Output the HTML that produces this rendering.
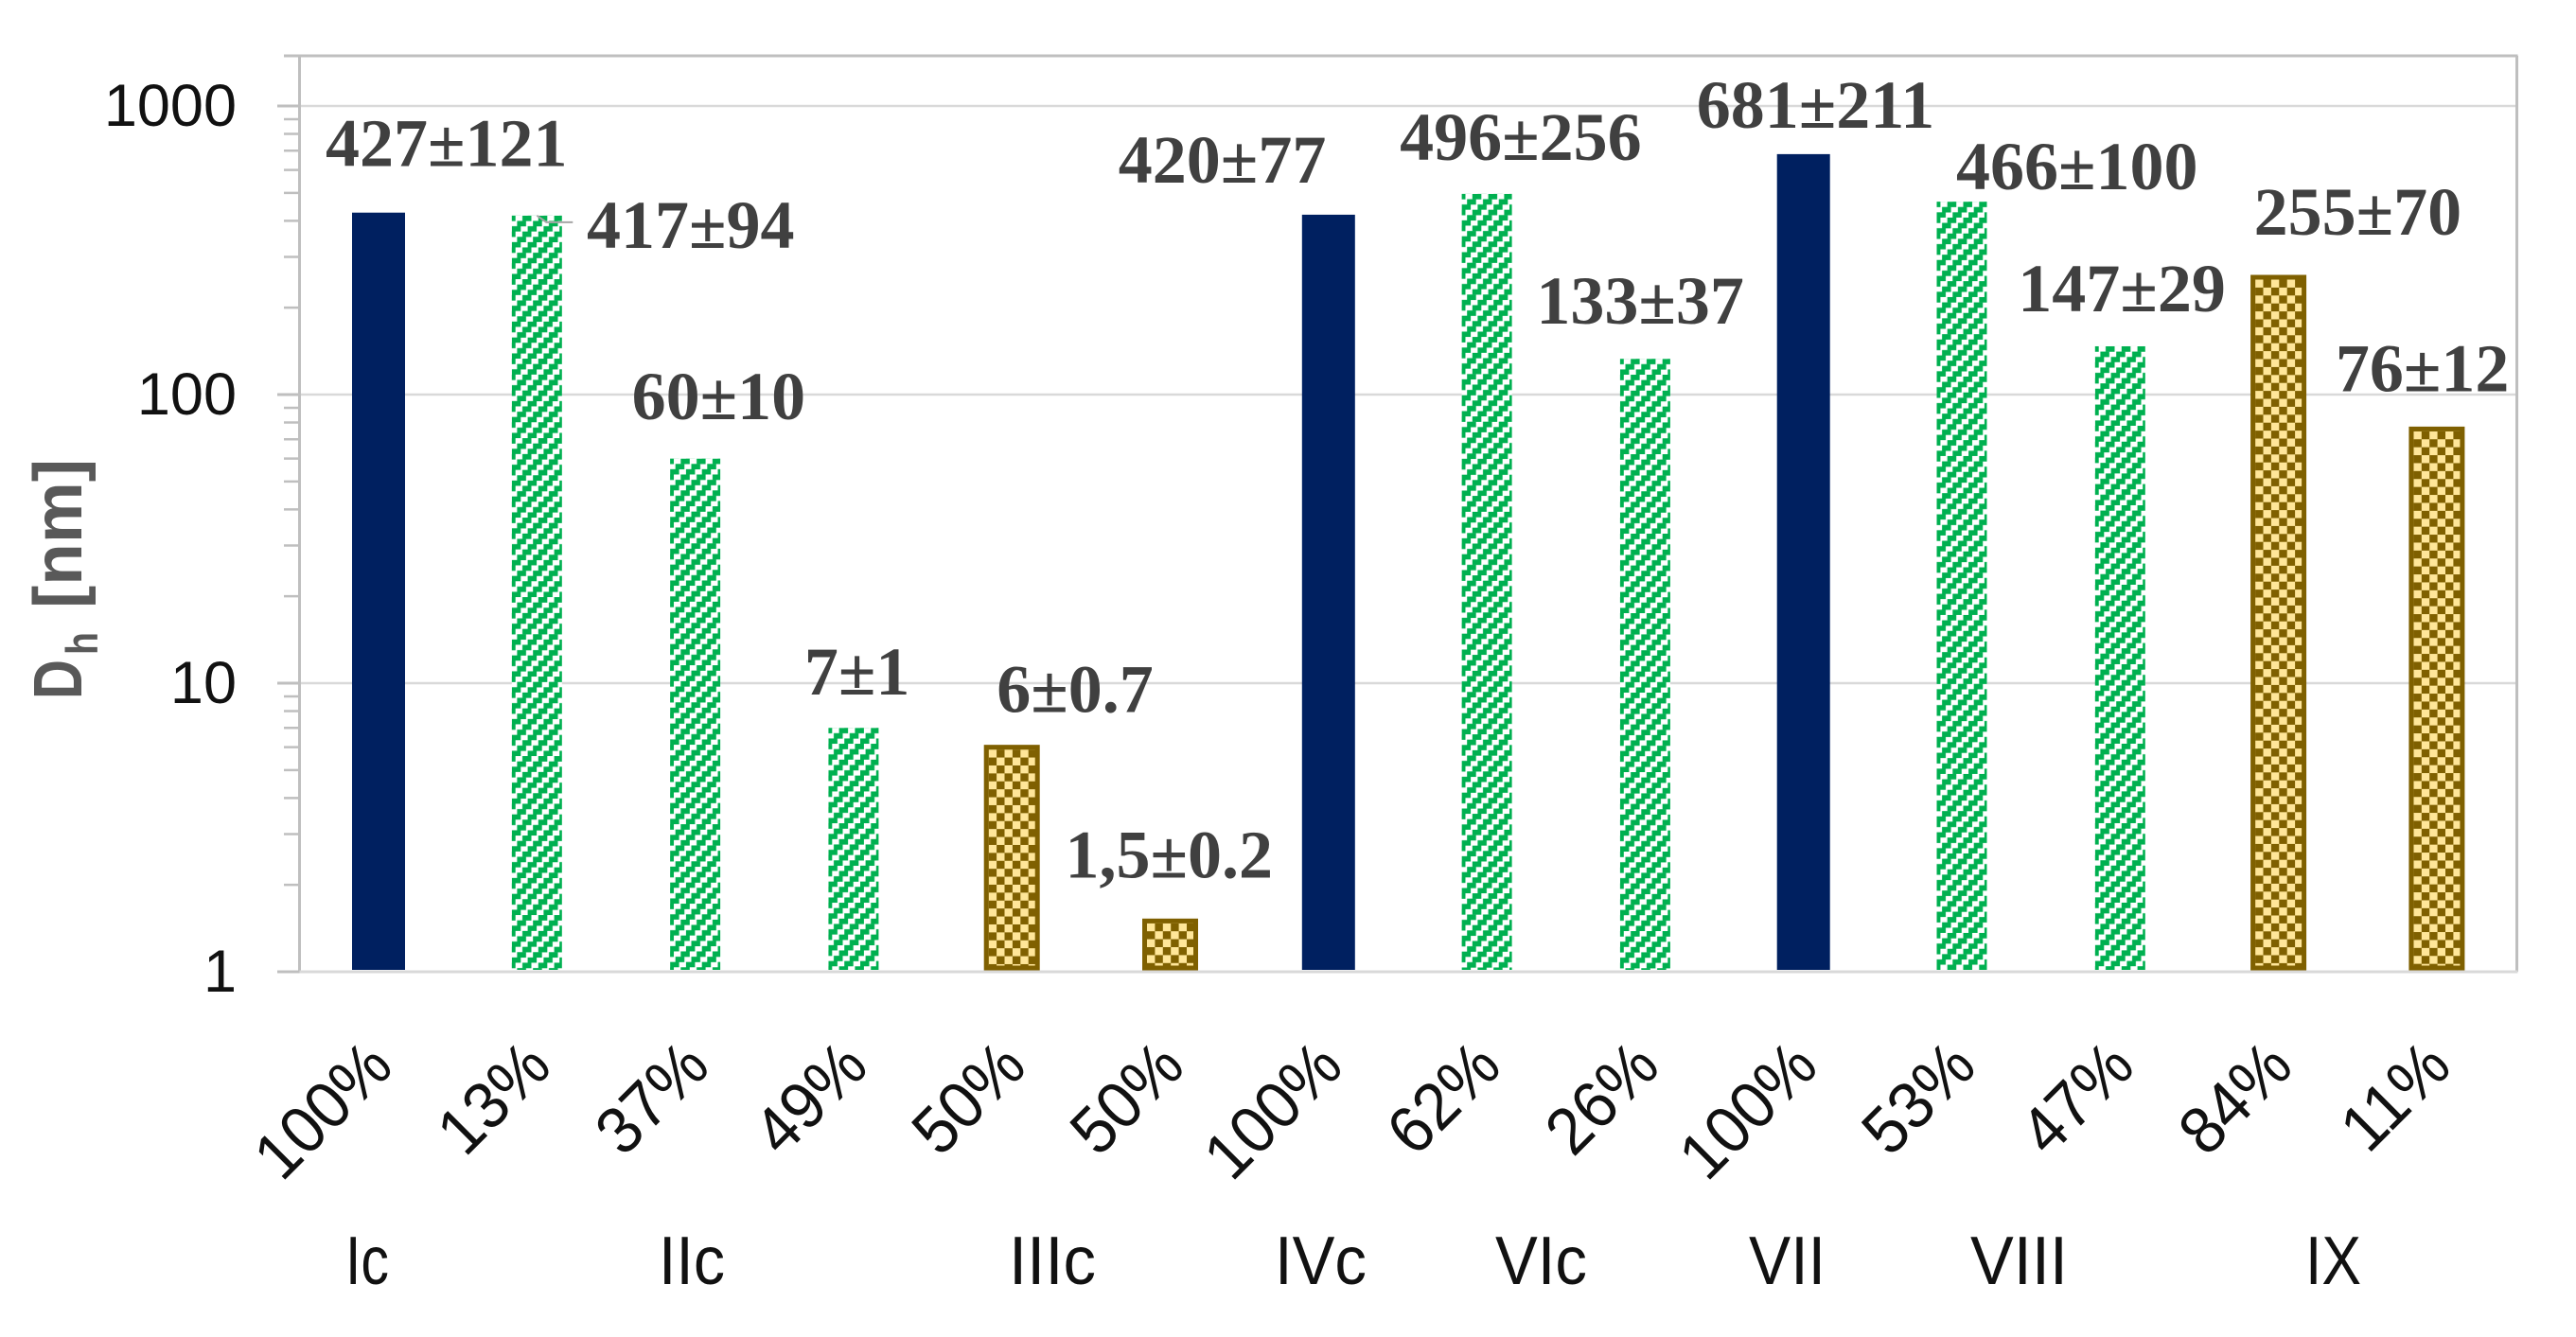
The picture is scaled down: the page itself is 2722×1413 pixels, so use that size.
<!DOCTYPE html>
<html lang="en">
<head>
<meta charset="utf-8">
<title>Hydrodynamic diameter chart</title>
<style>
  html, body { margin: 0; padding: 0; background: #ffffff; }
  svg { display: block; }
  .tick { font-family: "Liberation Sans", sans-serif; font-size: 63px; fill: #111111; }
  .pct { font-family: "Liberation Sans", sans-serif; font-size: 70px; fill: #111111; }
  .group { font-family: "Liberation Sans", sans-serif; font-size: 72px; fill: #111111; text-anchor: start; }
  .value { font-family: "Liberation Serif", serif; font-size: 72px; font-weight: bold; fill: #404040; }
  .title { font-family: "Liberation Sans", sans-serif; font-weight: bold; fill: #595959; }
</style>
</head>
<body>
<svg id="chart" xmlns="http://www.w3.org/2000/svg" width="2722" height="1413" viewBox="0 0 2722 1413">
  <defs>
    <pattern id="stripe" patternUnits="userSpaceOnUse" width="16.8" height="16.8" x="0" y="0">
      <rect width="16.8" height="16.8" fill="#ffffff"/>
      <g fill="#00B050">
        <rect x="11.2" y="0" width="5.6" height="5.8"/>
        <rect x="0" y="0" width="3.9" height="5.8"/>
        <rect x="5.6" y="5.6" width="9.5" height="5.8"/>
        <rect x="0" y="11.2" width="9.5" height="5.6"/>
      </g>
    </pattern>
    <pattern id="checker" patternUnits="userSpaceOnUse" width="16.8" height="16.8" x="2.5" y="2.5">
      <rect width="16.8" height="16.8" fill="#FFE699"/>
      <rect x="8.4" y="0" width="8.4" height="8.4" fill="#7F6000"/>
      <rect x="0" y="8.4" width="8.4" height="8.4" fill="#7F6000"/>
    </pattern>
  </defs>
  <rect x="0" y="0" width="2722" height="1413" fill="#ffffff"/>
  <g id="grid"></g>
  <g id="bars"></g>
  <g id="axes"></g>
  <g id="labels"></g>
  <g id="yticks"></g>
  <g id="xticks"></g>

  <g>
    <text class="title" font-size="72" transform="translate(86,739) rotate(-90)" textLength="42" lengthAdjust="spacingAndGlyphs">D</text>
    <text class="title" font-size="47" transform="translate(103,692) rotate(-90)" textLength="24" lengthAdjust="spacingAndGlyphs">h</text>
    <text class="title" font-size="72" transform="translate(86,643) rotate(-90)" textLength="158" lengthAdjust="spacingAndGlyphs">[nm]</text>
  </g>

  <g>
    <text class="group" x="365" y="1357" textLength="46" lengthAdjust="spacingAndGlyphs">Ic</text>
    <text class="group" x="696" y="1357" textLength="70" lengthAdjust="spacingAndGlyphs">IIc</text>
    <text class="group" x="1066" y="1357" textLength="92" lengthAdjust="spacingAndGlyphs">IIIc</text>
    <text class="group" x="1347" y="1357" textLength="97" lengthAdjust="spacingAndGlyphs">IVc</text>
    <text class="group" x="1580" y="1357" textLength="97" lengthAdjust="spacingAndGlyphs">VIc</text>
    <text class="group" x="1848" y="1357" textLength="81" lengthAdjust="spacingAndGlyphs">VII</text>
    <text class="group" x="2082" y="1357" textLength="103" lengthAdjust="spacingAndGlyphs">VIII</text>
    <text class="group" x="2436" y="1357" textLength="59" lengthAdjust="spacingAndGlyphs">IX</text>
  </g>
</svg>

<script>
// ---- chart data ----
const percentLabels = ["100%", "13%", "37%", "49%", "50%", "50%", "100%", "62%", "26%", "100%", "53%", "47%", "84%", "11%"];
const diameters = [427, 417, 60, 7, 6, 1.5, 420, 496, 133, 681, 466, 147, 255, 76];
const valueLabels = ["427±121", "417±94", "60±10", "7±1", "6±0.7", "1,5±0.2", "420±77", "496±256", "133±37", "681±211", "466±100", "147±29", "255±70", "76±12"];
const barKinds = ["solid", "stripe", "stripe", "stripe", "checker", "checker", "solid", "stripe", "stripe", "solid", "stripe", "stripe", "checker", "checker"];
const yTicks = [1, 10, 100, 1000];
const minorMultiples = [2, 3, 4, 5, 6, 7, 8, 9];

// ---- layout, separate from the data ----
const labelNudges = [[-56, -49], [52.7, 34], [-67, -41.7], [-52, -35], [-16, -37], [-111, -46], [-222, -34],
  [-92, -36], [-115, -37], [-113, -28], [-6, -13], [-108, -37], [-26, -45], [-107, -40]];
const plot = { left: 316.5, right: 2659.5, top: 59, bottom: 1027, decade: 305, first: 400, step: 167.3 };
const halfWidth = { solid: 28, stripe: 26.5, checker: 27 };

function xScale(i) { return plot.first + plot.step * i; }
function yScale(v) { return plot.bottom - Math.log10(v) * plot.decade; }

const NS = "http://www.w3.org/2000/svg";
function make(tag, parent, attrs, text) {
  const el = document.createElementNS(NS, tag);
  Object.keys(attrs).forEach(function (k) { el.setAttribute(k, attrs[k]); });
  if (text !== undefined) el.textContent = text;
  document.getElementById(parent).appendChild(el);
  return el;
}

// gridlines
yTicks.slice(1).forEach(function (t) {
  const grid = make("line", "grid", { x1: plot.left, x2: plot.right, y1: yScale(t), y2: yScale(t), stroke: "#d9d9d9", "stroke-width": 2.5 });
  
  
});

// bars
diameters.forEach(function (v, i) {
  const kind = barKinds[i];
  const hw = halfWidth[kind];
  const top = yScale(v);
  const baseY = kind === "checker" ? plot.bottom - 4 : plot.bottom - 2;
  const attrs = { x: 0, y: 0, width: hw * 2, height: baseY - top, transform: "translate(" + (xScale(i) - hw) + "," + top + ")" };
  if (kind === "solid") { attrs.fill = "#002060"; }
  if (kind === "stripe") { attrs.fill = "url(#stripe)"; }
  if (kind === "checker") { attrs.fill = "url(#checker)"; attrs.stroke = "#7F6000"; attrs["stroke-width"] = 5; }
  const bar = make("rect", "bars", attrs);
  
  
});

// value labels
valueLabels.forEach(function (s, i) {
  const label = make("text", "labels", { class: "value", x: xScale(i) + labelNudges[i][0], y: yScale(diameters[i]) + labelNudges[i][1] }, s);
  
  
});

// leader line for the second bar's label
const lx = xScale(1);
const ly = yScale(diameters[1]);
const leader = make("polyline", "labels", { points: lx + "," + ly + " " + (lx + 10) + "," + (ly + 7) + " " + (lx + 38) + "," + (ly + 7), fill: "none", stroke: "#a6a6a6", "stroke-width": 2 });



// axes and frame
const frameLines = [
  ["axis-left", plot.left, plot.top, plot.left, plot.bottom, "#bfbfbf", 3],
  ["frame-right", plot.right, plot.top, plot.right, plot.bottom, "#bfbfbf", 3],
  ["frame-top", 300, plot.top, plot.right + 1, plot.top, "#bfbfbf", 3],
  ["axis-baseline", plot.left, plot.bottom, plot.right + 1, plot.bottom, "#d9d9d9", 3]
];
frameLines.forEach(function (f) {
  const line = make("line", "axes", { x1: f[1], y1: f[2], x2: f[3], y2: f[4], stroke: f[5], "stroke-width": f[6] });
  
  
});

// y axis ticks and labels
yTicks.forEach(function (t) {
  const major = make("line", "axes", { x1: 293, x2: plot.left, y1: yScale(t), y2: yScale(t), stroke: "#bfbfbf", "stroke-width": 3 });
  
  
  const label = make("text", "yticks", { class: "tick", x: 250, y: yScale(t) + 21, "text-anchor": "end" }, String(t));
  
  
  if (t < 1000) {
    minorMultiples.forEach(function (m) {
      const minor = make("line", "axes", { x1: 300, x2: plot.left, y1: yScale(t * m), y2: yScale(t * m), stroke: "#bfbfbf", "stroke-width": 2.5 });
      
      
    });
  }
});

// rotated percent labels
percentLabels.forEach(function (s, i) {
  const label = make("text", "xticks", { class: "pct", "text-anchor": "end", transform: "translate(" + (xScale(i) + 18) + ",1130) rotate(-45) scale(0.95,1)" }, s);
  
  
});
</script>
</body>
</html>
